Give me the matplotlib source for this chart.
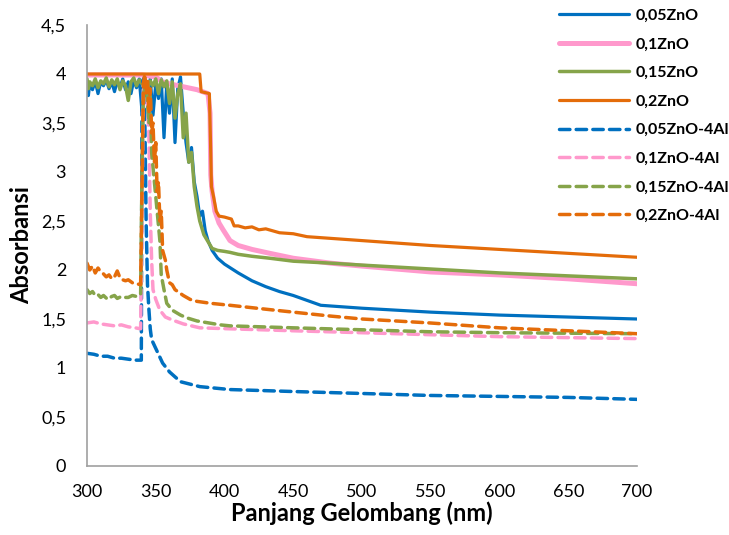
import matplotlib
matplotlib.use('Agg')
import matplotlib.pyplot as plt

# (panjang gelombang nm, absorbansi)
zno_005 = [(300, 3.92), (301, 3.78), (302, 3.9), (304, 3.84), (306, 3.93), (308, 3.8), (310, 3.92),
           (312, 3.88), (314, 3.94), (316, 3.85), (318, 3.92), (320, 3.82), (322, 3.93), (324, 3.86),
           (326, 3.95), (328, 3.84), (330, 3.92), (332, 3.8), (334, 3.94), (336, 3.86), (338, 3.95),
           (340, 3.62), (342, 3.93), (344, 3.7), (346, 3.95), (348, 3.58), (350, 3.9), (352, 3.75),
           (354, 3.95), (356, 3.35), (358, 3.9), (360, 3.6), (362, 3.95), (364, 3.3), (366, 3.85),
           (368, 3.97), (370, 3.6), (372, 3.3), (374, 3.1), (376, 3.25), (378, 2.9), (380, 2.75),
           (382, 2.55), (384, 2.6), (386, 2.4), (388, 2.3), (391, 2.2), (395, 2.12), (400, 2.06),
           (410, 1.97), (420, 1.89), (430, 1.83), (440, 1.78), (450, 1.74), (460, 1.69), (470, 1.64),
           (480, 1.63), (500, 1.61), (550, 1.57), (600, 1.54), (650, 1.52), (700, 1.5)]
zno_01 = [(300, 3.99), (340, 3.99), (350, 3.97), (355, 3.92), (360, 3.9), (370, 3.87), (380, 3.84),
          (388, 3.8), (389.5, 3.6), (390, 2.97), (391, 2.8), (393, 2.6), (396, 2.48), (399, 2.41),
          (404, 2.3), (410, 2.25), (420, 2.21), (433, 2.17), (450, 2.12), (477, 2.07), (500, 2.04),
          (550, 1.98), (600, 1.95), (650, 1.91), (700, 1.86)]
zno_015 = [(300, 3.95), (301, 3.85), (302, 3.92), (304, 3.88), (306, 3.95), (308, 3.86), (310, 3.93),
           (312, 3.9), (314, 3.96), (316, 3.87), (318, 3.94), (320, 3.89), (322, 3.95), (324, 3.84),
           (326, 3.93), (328, 3.88), (330, 3.73), (332, 3.92), (334, 3.96), (336, 3.88), (338, 3.94),
           (340, 3.9), (342, 3.96), (344, 3.85), (346, 3.93), (348, 3.88), (350, 3.95), (352, 3.8),
           (354, 3.94), (356, 3.87), (358, 3.93), (360, 3.7), (362, 3.92), (364, 3.55), (366, 3.8),
           (368, 3.9), (370, 3.35), (372, 3.6), (374, 3.1), (376, 3.2), (378, 2.85), (380, 2.65),
           (382, 2.5), (385, 2.36), (388, 2.29), (391, 2.22), (395, 2.2), (400, 2.19), (404, 2.18),
           (410, 2.16), (420, 2.14), (433, 2.12), (450, 2.09), (477, 2.07), (500, 2.05), (550, 2.01),
           (600, 1.97), (650, 1.94), (700, 1.91)]
zno_02 = [(300, 4.0), (382, 4.0), (383, 3.82), (389, 3.8), (390, 3.2), (390.5, 2.85), (392, 2.75),
          (394, 2.6), (396, 2.55), (400, 2.54), (405, 2.52), (407, 2.45), (410, 2.45), (415, 2.43),
          (420, 2.44), (425, 2.41), (430, 2.42), (440, 2.38), (450, 2.37), (460, 2.34), (470, 2.33),
          (480, 2.32), (500, 2.3), (550, 2.25), (600, 2.21), (650, 2.17), (700, 2.13)]
zno_005_al = [(300, 1.15), (305, 1.14), (310, 1.12), (315, 1.12), (320, 1.1), (325, 1.1), (330, 1.09),
              (335, 1.08), (339.5, 1.08), (340, 3.8), (341, 3.95), (342, 3.6), (343, 2.5), (344, 1.85),
              (345, 1.6), (346, 1.4), (347, 1.29), (350, 1.2), (355, 1.05), (360, 0.96), (368, 0.86),
              (382, 0.81), (404, 0.78), (450, 0.76), (500, 0.74), (549, 0.72), (600, 0.71), (650, 0.7),
              (700, 0.68)]
zno_01_al = [(300, 1.46), (305, 1.47), (310, 1.45), (315, 1.44), (320, 1.43), (325, 1.44), (330, 1.42),
             (335, 1.41), (339, 1.4), (340, 2.5), (341, 3.9), (343, 3.9), (345, 3.4), (346, 2.6),
             (347, 2.1), (348, 1.8), (350, 1.7), (353, 1.59), (357, 1.52), (362, 1.49), (370, 1.45),
             (382, 1.41), (404, 1.4), (450, 1.38), (500, 1.36), (549, 1.34), (600, 1.32), (650, 1.31),
             (700, 1.3)]
zno_015_al = [(300, 1.8), (302, 1.76), (304, 1.78), (306, 1.74), (308, 1.75), (310, 1.72), (312, 1.74),
              (315, 1.7), (318, 1.73), (320, 1.74), (322, 1.71), (325, 1.73), (328, 1.72), (330, 1.72),
              (333, 1.74), (336, 1.73), (339, 1.75), (340, 3.0), (341, 3.8), (343, 3.9), (345, 3.5),
              (346, 3.8), (347, 3.2), (349, 2.9), (351, 2.6), (353, 2.3), (354, 1.95), (356, 1.8),
              (358, 1.66), (362, 1.59), (368, 1.54), (373, 1.51), (380, 1.48), (397, 1.44), (404, 1.43),
              (450, 1.41), (500, 1.39), (549, 1.37), (600, 1.36), (650, 1.355), (700, 1.35)]
zno_02_al = [(300, 2.07), (302, 2.0), (304, 2.04), (306, 1.97), (308, 2.02), (310, 1.98), (312, 1.96),
             (314, 1.93), (316, 1.95), (318, 1.91), (320, 1.93), (322, 1.99), (324, 1.92), (326, 1.9),
             (328, 1.89), (330, 1.9), (333, 1.87), (336, 1.86), (339, 1.85), (340, 2.8), (341, 3.9),
             (342, 4.0), (343, 3.8), (344, 3.95), (345, 3.6), (346, 3.85), (347, 3.4), (348, 3.5),
             (349, 3.1), (350, 3.3), (351, 2.8), (352, 2.9), (353, 2.5), (354, 2.6), (355, 2.2),
             (357, 2.1), (358, 2.0), (360, 1.87), (362, 1.85), (364, 1.8), (367, 1.77), (370, 1.74),
             (375, 1.7), (380, 1.68), (390, 1.66), (404, 1.64), (430, 1.6), (450, 1.57), (477, 1.53),
             (500, 1.5), (549, 1.46), (600, 1.41), (650, 1.38), (700, 1.35)]

labels = ['0,05ZnO', '0,1ZnO', '0,15ZnO', '0,2ZnO',
          '0,05ZnO-4Al', '0,1ZnO-4Al', '0,15ZnO-4Al', '0,2ZnO-4Al']
series = [zno_005, zno_01, zno_015, zno_02, zno_005_al, zno_01_al, zno_015_al, zno_02_al]

blue = '#0070C0'
pink = '#FF99CC'
green = '#86A44A'
orange = '#E46C0A'
colors = [blue, pink, green, orange, blue, pink, green, orange]
widths = [2.3, 3.6, 2.5, 2.3, 2.5, 2.5, 2.5, 2.5]

plt.rcParams['font.family'] = ['Lato', 'DejaVu Sans']

fig = plt.figure(figsize=(7.29, 5.35), dpi=100)
ax = fig.add_axes([87 / 729, 69 / 535, 550 / 729, 441 / 535])

for i in range(len(series)):
    xs = [p[0] for p in series[i]]
    ys = [p[1] for p in series[i]]
    if i < 4:
        ax.plot(xs, ys, color=colors[i], lw=widths[i], label=labels[i],
                solid_joinstyle='round', solid_capstyle='round')
    else:
        ax.plot(xs, ys, color=colors[i], lw=widths[i], label=labels[i],
                dashes=(3.0, 1.8), dash_capstyle='round', dash_joinstyle='round')

ax.set_xlim(300, 700)
ax.set_ylim(0, 4.5)
ax.set_xticks(range(300, 701, 50))
ax.set_yticks([0, 0.5, 1, 1.5, 2, 2.5, 3, 3.5, 4, 4.5])
ax.set_yticklabels(['0', '0,5', '1', '1,5', '2', '2,5', '3', '3,5', '4', '4,5'])
ax.tick_params(length=0, labelsize=13, colors='#000000')
ax.tick_params(axis='x', pad=13)
ax.tick_params(axis='y', pad=15)
for s in ['top', 'right']:
    ax.spines[s].set_visible(False)
for s in ['left', 'bottom']:
    ax.spines[s].set_color('#A0A0A0')
    ax.spines[s].set_linewidth(1.2)

ax.set_xlabel('Panjang Gelombang (nm)', fontsize=17, fontweight='bold', labelpad=1)
ax.set_ylabel('Absorbansi', fontsize=17, fontweight='bold', labelpad=6)

ax.legend(loc='upper left', bbox_to_anchor=(550 / 729, 1.0), bbox_transform=fig.transFigure,
          frameon=False, prop={'weight': 'bold', 'size': 11.5},
          handlelength=4.4, handletextpad=0.4, labelspacing=0.9, borderaxespad=0.15)

fig.savefig('out.png', dpi=100)
